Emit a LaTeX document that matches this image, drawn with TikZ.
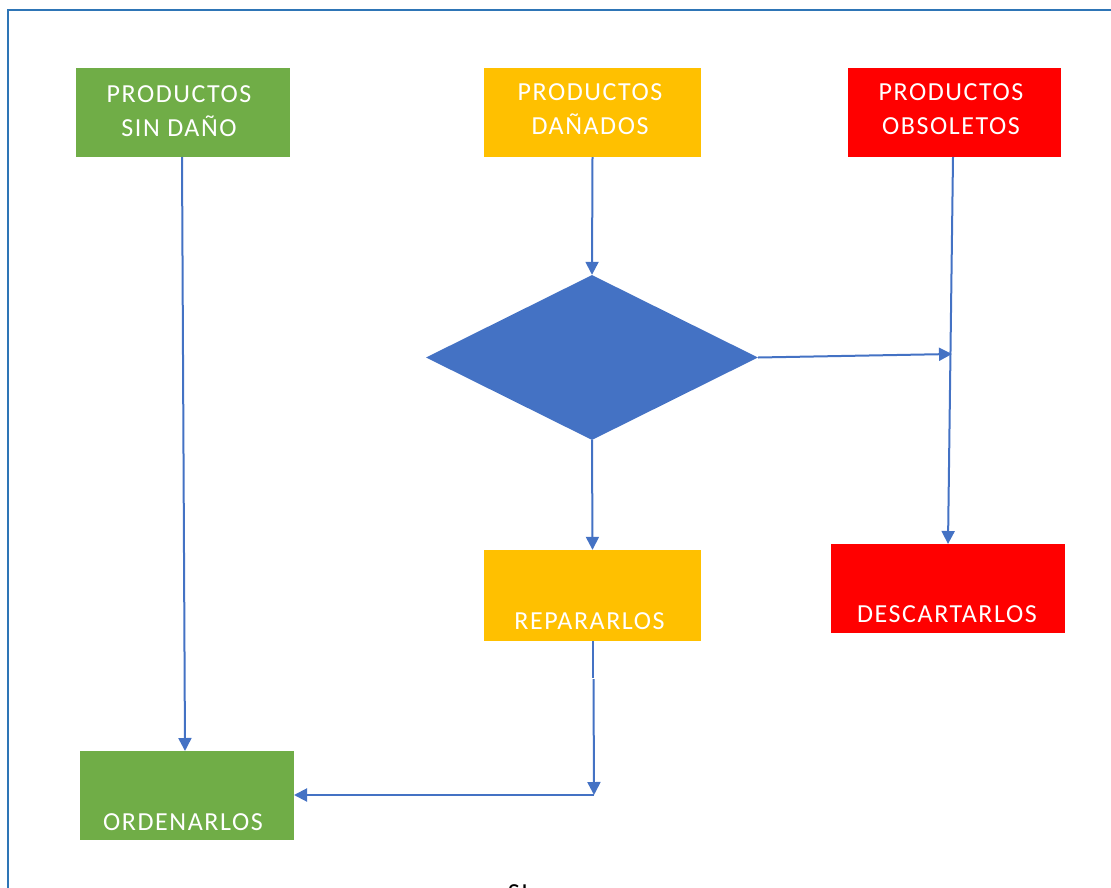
\documentclass[tikz,border=0pt]{standalone}
\usepackage{fontspec}
\setmainfont{Carlito}[LetterSpace=6]
\usetikzlibrary{shapes.geometric,arrows.meta,calc}
\definecolor{cgreen}{HTML}{70AD47}
\definecolor{cyellow}{HTML}{FFC000}
\definecolor{cred}{HTML}{FF0000}
\definecolor{cblue}{HTML}{4472C4}
\definecolor{cframe}{HTML}{2E75B6}
\tikzset{
  boxnode/.style={draw=none, rectangle, inner sep=0pt},
  txt/.style={inner sep=0pt, text=white, align=center, font=\fontsize{26}{34}\selectfont},
  conn/.style={draw=cblue, line width=2pt},
  arr/.style={conn, -{Triangle[length=13pt,width=13pt]}},
}
\begin{document}
\begin{tikzpicture}[x=1pt,y=-1pt]
\useasboundingbox (0,0) rectangle (1111,888);
% frame
\draw[cframe, line width=1.8pt] (8,888) -- (8,10) -- (1112,10);
% top boxes
\node[boxnode, fill=cgreen, minimum width=214pt, minimum height=89pt] (sin) at (183,112.5) {};
\node[txt] (sintxt) at (179,111.5) {PRODUCTOS\\SIN DAÑO};
\node[boxnode, fill=cyellow, minimum width=217pt, minimum height=89pt] (dan) at (592.5,112.5) {};
\node[txt] (dantxt) at (590,109) {PRODUCTOS\\DAÑADOS};
\node[boxnode, fill=cred, minimum width=213pt, minimum height=89pt] (obs) at (954.5,112.5) {};
\node[txt] (obstxt) at (951,109) {PRODUCTOS\\OBSOLETOS};
% diamond
\node[diamond, fill=cblue, inner sep=0pt, minimum width=332pt, minimum height=165pt] (dec) at (592,357.5) {};
% lower boxes
\node[boxnode, fill=cyellow, minimum width=217pt, minimum height=91pt] (rep) at (592.5,595.5) {};
\node[txt] (reptxt) at (589.5,621) {REPARARLOS};
\node[boxnode, fill=cred, minimum width=234pt, minimum height=89pt] (des) at (948,588.5) {};
\node[txt] (destxt) at (947,614) {DESCARTARLOS};
\node[boxnode, fill=cgreen, minimum width=214pt, minimum height=89pt] (ord) at (187,795.5) {};
\node[txt] (ordtxt) at (183,822) {ORDENARLOS};
\node[inner sep=0pt, font=\fontsize{26}{34}\selectfont] (si) at (518,893) {SI};
% coordinates
\coordinate (sinb) at (182,157);
\coordinate (ordt) at (185,751);
\coordinate (obsb) at (953,157);
\coordinate (dest) at (948,544);
\coordinate (meet) at (952,354);
\coordinate (repb) at (593,641);
\coordinate (gapa) at (593,677.5);
\coordinate (gapb) at (593.5,679);
\coordinate (corner) at (594,795);
\coordinate (ordr) at (294,795);
% connectors
\draw[arr] (sinb) -- (ordt);
\draw[arr] (dan.south) -- (dec.north);
\draw[arr] (obsb) -- (dest);
\draw[arr] (dec.east) -- (meet);
\draw[arr] (dec.south) -- (rep.north);
\draw[conn] (repb) -- (gapa);
\draw[arr] (gapb) -- (corner);
\draw[arr] (corner) -- (ordr);
\end{tikzpicture}
\end{document}
